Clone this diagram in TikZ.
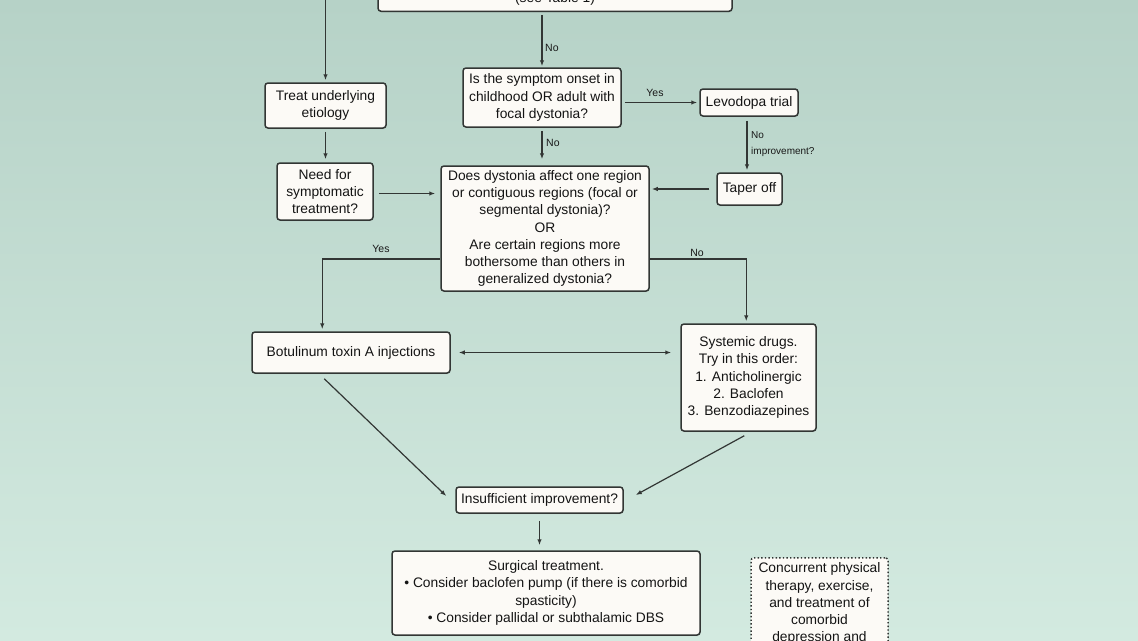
\documentclass[tikz,border=0pt]{standalone}
\usepackage{fontspec}
\setmainfont{Liberation Sans}
\usetikzlibrary{arrows.meta,shadows,calc}
\definecolor{bgtop}{RGB}{182,210,199}
\definecolor{bgbot}{RGB}{211,234,224}
\definecolor{boxfill}{RGB}{252,250,246}
\definecolor{ink}{RGB}{50,54,52}
\begin{document}
\begin{tikzpicture}[x=1pt,y=-1pt,
  box/.style={draw=ink, line width=1.5pt, fill=boxfill, rounded corners=3pt, align=center,
    font=\fontsize{13.8}{17.3}\selectfont, inner sep=3pt, text=black!92,
    drop shadow={opacity=0.18,shadow xshift=0.8pt,shadow yshift=-1pt}},
  dotbox/.style={box, drop shadow={opacity=0}, draw=ink, line width=1.5pt, dash pattern=on 1.4pt off 2.2pt},
  arr/.style={draw=ink, line width=1.2pt, -{Latex[length=6pt,width=4.5pt]}},
  lbl/.style={font=\fontsize{10.5}{15.5}\selectfont, inner sep=0pt, text=black!90}]
\path[use as bounding box] (0,0) rectangle (1138,640);
\clip (0,0) rectangle (1138,640);
\shade[top color=bgtop, bottom color=bgbot] (0,0) rectangle (1138,640);

% nodes
\node[box, anchor=south, minimum width=354pt, text height=40pt, text depth=5pt, inner sep=4pt] (top) at (555,12) {(see Table 1)};
\node[box, minimum width=121pt, minimum height=45pt] (treat) at (325.5,105.5) {Treat underlying\\etiology};
\node[box, minimum width=158pt, minimum height=59pt] (onset) at (542,97.5) {Is the symptom onset in\\childhood OR adult with\\focal dystonia?};
\node[box, minimum width=98pt, minimum height=27pt] (levo) at (749,102.5) {Levodopa trial};
\node[box, minimum width=65pt, minimum height=32pt] (taper) at (749.5,189) {Taper off};
\node[box, minimum width=96pt, minimum height=57pt] (need) at (325,191.5) {Need for\\symptomatic\\treatment?};
\node[box, minimum width=208pt, minimum height=125pt] (does) at (545,228.5) {Does dystonia affect one region\\or contiguous regions (focal or\\segmental dystonia)?\\OR\\Are certain regions more\\bothersome than others in\\generalized dystonia?};
\node[box, minimum width=198pt, minimum height=41pt] (botu) at (351,352.5) {Botulinum toxin A injections};
\node[box, minimum width=135pt, minimum height=107pt] (syst) at (748.5,377.5) {Systemic drugs.\\Try in this order:\\1. Anticholinergic\\2. Baclofen\\3. Benzodiazepines};
\node[box, minimum width=167pt, minimum height=26pt] (insuf) at (539.5,500) {Insufficient improvement?};
\node[box, minimum width=308pt, minimum height=84pt] (surg) at (546,593) {Surgical treatment.\\• Consider baclofen pump (if there is comorbid\\spasticity)\\• Consider pallidal or subthalamic DBS};
\node[dotbox, anchor=north, minimum width=137pt, inner sep=5pt] (conc) at (819.5,557) {Concurrent physical\\therapy, exercise,\\and treatment of\\comorbid\\depression and};

% connectors
\coordinate (lt) at (325.5,-5);
\draw[arr, shorten >=2pt] (lt) -- (treat.north);
\draw[arr, shorten <=3pt, shorten >=1pt] (top.south -| onset.north) -- (onset.north);
\node[lbl, anchor=west] (no1) at (545,48) {No};
\draw[arr, shorten <=3pt, shorten >=2pt] (onset.east |- levo.west) -- (levo.west);
\node[lbl] (yes1) at (655,93) {Yes};
\draw[arr, shorten <=3pt, shorten >=6pt] (onset.south) -- (onset.south |- does.north);
\node[lbl, anchor=west] (no2) at (546,143) {No};
\draw[arr, shorten <=4pt, shorten >=2pt] ([xshift=-2pt]levo.south) -- ([xshift=-2pt]levo.south |- taper.north);
\node[lbl, anchor=west, align=left, font=\fontsize{10}{16}\selectfont] (noimp) at (751,144) {No\\improvement?};
\draw[arr, shorten <=3pt, shorten >=3pt] (treat.south) -- (treat.south |- need.north);
\draw[arr, shorten <=5pt, shorten >=5pt] ([yshift=-2pt]need.east) -- ([yshift=-2pt]need.east -| does.west);
\draw[arr, shorten <=7pt, shorten >=2pt] (taper.west) -- (taper.west -| does.east);
\draw[arr, shorten >=2pt] ($(does.west)+(0,30.5)$) -| ($(botu.north west)+(71,0)$);
\node[lbl] (yes2) at (381,249) {Yes};
\draw[arr, shorten >=2pt] ($(does.east)+(0,30.5)$) -| ($(syst.north west)+(66,0)$);
\node[lbl] (no3) at (697,253) {No};
\draw[draw=ink, line width=1.2pt, {Latex[length=6pt,width=4.5pt]}-{Latex[length=6pt,width=4.5pt]}, shorten <=8pt, shorten >=9pt] (botu.east) -- (botu.east -| syst.west);
\draw[arr] ($(botu.south west)+(73,5)$) -- ($(insuf.west)+(-9,-4)$);
\draw[arr] ($(syst.south west)+(64,4)$) -- ($(insuf.east)+(12,-5)$);
\draw[arr, shorten <=7pt, shorten >=5pt] (insuf.south) -- (insuf.south |- surg.north);
\end{tikzpicture}
\end{document}
